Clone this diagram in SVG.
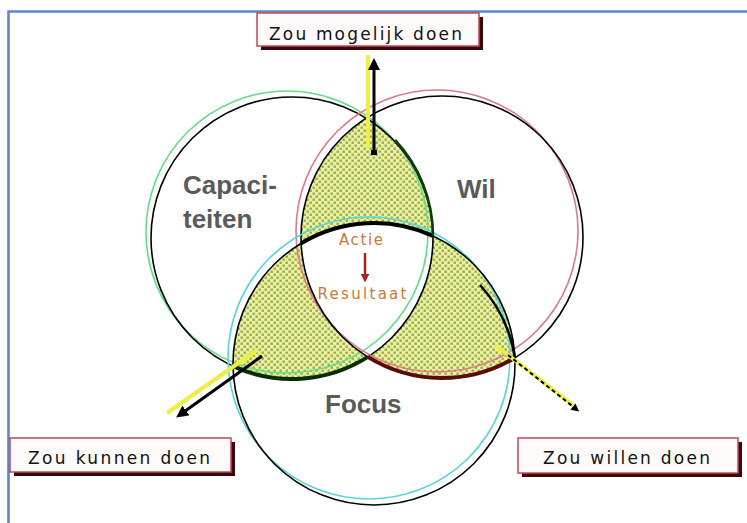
<svg xmlns="http://www.w3.org/2000/svg" width="747" height="523" viewBox="0 0 747 523">
<defs>
<pattern id="dots" width="6" height="6" patternUnits="userSpaceOnUse">
<rect width="6" height="6" fill="#eaf39c"/>
<rect x="0.5" y="0.5" width="2.4" height="2.4" fill="#98a858"/>
<rect x="3.5" y="3.5" width="2.4" height="2.4" fill="#98a858"/>
</pattern>
<marker id="head" viewBox="0 0 10 10" refX="5" refY="5" markerWidth="4" markerHeight="4" orient="auto-start-reverse">
<path d="M0,0 L10,5 L0,10 Z" fill="#000"/>
</marker>
<marker id="headR" viewBox="0 0 10 10" refX="6" refY="5" markerWidth="3.5" markerHeight="3.5" orient="auto">
<path d="M0,0 L10,5 L0,10 Z" fill="#a02818"/>
</marker>
</defs>
<style>
.blk{fill:none;stroke:#000;stroke-width:1.6}
.big{font-family:"Liberation Sans",Arial,sans-serif;font-weight:bold;font-size:26px;fill:#5a5a5a}
.mid{font-family:"DejaVu Sans","Liberation Sans",sans-serif;font-size:15px;fill:#c87a3a}
.lbl{font-family:"DejaVu Sans","Liberation Sans",sans-serif;font-size:17px;fill:#111}
.box{fill:#fffafa;stroke:#c04858;stroke-width:1.5}
.shadow{fill:#3a0808}
.yel{stroke:#eeee44;stroke-width:4;fill:none}
.arr{stroke:#000;stroke-width:3;fill:none}
</style>
<rect width="747" height="523" fill="#fff"/>
<path d="M8.5,523 V11.5 H747" fill="none" stroke="#5a88cc" stroke-width="2.6"/>

<g id="lenses">
<path d="M366.2,118.1 A141 141 0 0 1 433,235.9 A141 141 0 0 0 301.1,243.3 A141 141 0 0 1 366.2,118.1 Z" fill="url(#dots)"/>
<path d="M233,366.1 A141 141 0 0 0 367.8,356.9 A141 141 0 0 1 301.1,243.3 A141 141 0 0 0 233,366.1 Z" fill="url(#dots)"/>
<path d="M514.9,357.7 A141 141 0 0 1 367.8,356.9 A141 141 0 0 0 433,235.9 A141 141 0 0 1 514.9,357.7 Z" fill="url(#dots)"/>
</g>

<g id="capaciteiten">
<circle cx="287" cy="232" r="141" fill="none" stroke="#66dd88" stroke-width="1.6"/>
<circle cx="292" cy="238" r="141" class="blk"/>
<text class="big" x="183" y="194">Capaci-</text>
<text class="big" x="183" y="228">teiten</text>
</g>

<g id="wil">
<circle cx="437" cy="231" r="141" fill="none" stroke="#e07888" stroke-width="1.6"/>
<circle cx="442" cy="237" r="141" class="blk"/>
<text class="big" x="457" y="198">Wil</text>
</g>

<g id="focus">
<circle cx="369" cy="358" r="141" fill="none" stroke="#55d4dd" stroke-width="1.6"/>
<circle cx="374" cy="364" r="141" class="blk"/>
<text class="big" x="325" y="413">Focus</text>
</g>

<g id="accents" fill="none">
<path d="M301.1,243.3 A141 141 0 0 1 433,235.9" stroke="#000" stroke-width="4"/>
<path d="M395,140 A141 141 0 0 1 433,235.9" stroke="#0c3c10" stroke-width="2.6"/>
<path d="M233,366.1 A141 141 0 0 0 367.8,356.9" stroke="#0a2c0a" stroke-width="4"/>
<path d="M367.8,356.9 A141 141 0 0 0 514.9,357.7" stroke="#5a0c0c" stroke-width="4"/>
<path d="M480,285 A141 141 0 0 1 514.9,357.7" stroke="#000" stroke-width="2.6"/>
</g>

<g id="center">
<text class="mid" x="361" y="245" text-anchor="middle" textLength="44" lengthAdjust="spacing">Actie</text>
<line x1="365" y1="253" x2="365" y2="279" stroke="#a02818" stroke-width="2.5" marker-end="url(#headR)"/>
<text class="mid" x="362" y="299" text-anchor="middle" textLength="89" lengthAdjust="spacing">Resultaat</text>
</g>

<g id="connectors">
<line class="yel" x1="368" y1="55" x2="368" y2="148"/>
<line class="arr" x1="374" y1="153" x2="374" y2="64" marker-end="url(#head)"/>
<rect x="371" y="150" width="6" height="5" fill="#000"/>
<line class="yel" x1="167" y1="413" x2="257" y2="350"/>
<line class="arr" x1="262" y1="356" x2="181" y2="414" marker-end="url(#head)"/>
<line class="yel" x1="495" y1="345" x2="577" y2="408"/>
<line x1="508" y1="355" x2="576" y2="409" stroke="#000" stroke-width="2" stroke-dasharray="4 3" marker-end="url(#head)"/>
</g>

<g id="mogelijk">
<rect class="shadow" x="261" y="17" width="222" height="33"/>
<rect class="box" x="257" y="13" width="222" height="33"/>
<text class="lbl" x="269" y="40" textLength="193" lengthAdjust="spacing">Zou mogelijk doen</text>
</g>

<g id="kunnen">
<rect class="shadow" x="14" y="442" width="221" height="34"/>
<rect class="box" x="10" y="438" width="221" height="34"/>
<text class="lbl" x="28" y="464" textLength="182" lengthAdjust="spacing">Zou kunnen doen</text>
</g>

<g id="willen">
<rect class="shadow" x="522" y="442" width="220" height="35"/>
<rect class="box" x="518" y="438" width="220" height="35"/>
<text class="lbl" x="543" y="464" textLength="167" lengthAdjust="spacing">Zou willen doen</text>
</g>
</svg>
